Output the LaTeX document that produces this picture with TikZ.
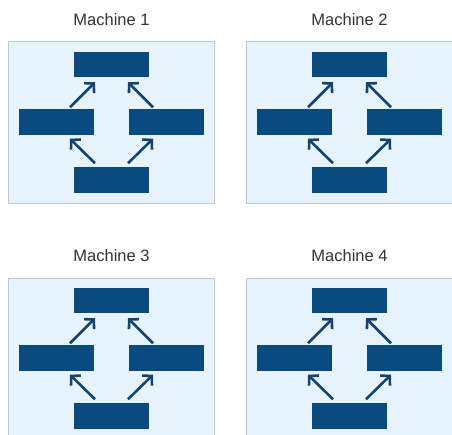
\documentclass[tikz,border=0pt]{standalone}
\usepackage{fontspec}
\setmainfont{Liberation Sans}
\usetikzlibrary{arrows.meta}
\definecolor{boxnavy}{HTML}{0B4A7E}
\definecolor{arrownavy}{HTML}{14446D}
\definecolor{panelfill}{HTML}{E6F2FC}
\definecolor{panelline}{HTML}{B9CAD8}
\definecolor{titlegrey}{HTML}{333333}
\tikzset{
  panel/.style={draw=panelline, line width=1bp, fill=panelfill, anchor=north west,
    minimum width=206bp, minimum height=161bp, inner sep=0pt, outer sep=0pt},
  unitbox/.style={fill=boxnavy, minimum width=75bp, minimum height=25.5bp,
    inner sep=0pt, outer sep=0pt},
  heading/.style={text=titlegrey, font=\fontsize{16.5bp}{19bp}\selectfont},
  flow/.style={draw=arrownavy, line width=2.6bp,
    -{Straight Barb[length=6.5bp,width=14bp]}},
}
\begin{document}
\begin{tikzpicture}[x=1bp,y=-1bp]
\useasboundingbox (0,0) rectangle (452,435);
\foreach \n/\px/\py in {1/8/42, 2/246/42, 3/8/278, 4/246/278}{
  \begin{scope}[shift={(\px,\py)}]
    \node[panel] (f\n) at (0,0) {};
    \node[heading] (h\n) at (103.5,-22) {Machine \n};
    \node[unitbox] (t\n) at (103.5,22.5) {};
    \node[unitbox] (l\n) at (48.5,80) {};
    \node[unitbox] (r\n) at (158.5,80) {};
    \node[unitbox] (b\n) at (103.5,138) {};
    \draw[flow] ([shift={(-24,-2)}]l\n.north east) -- ([shift={(21,5)}]t\n.south west);
    \draw[flow] ([shift={(24,-2)}]r\n.north west) -- ([shift={(-21,5)}]t\n.south east);
    \draw[flow] ([shift={(21,-4)}]b\n.north west) -- ([shift={(-24,4)}]l\n.south east);
    \draw[flow] ([shift={(-21,-4)}]b\n.north east) -- ([shift={(24,4)}]r\n.south west);
  \end{scope}
}
\end{tikzpicture}
\end{document}
